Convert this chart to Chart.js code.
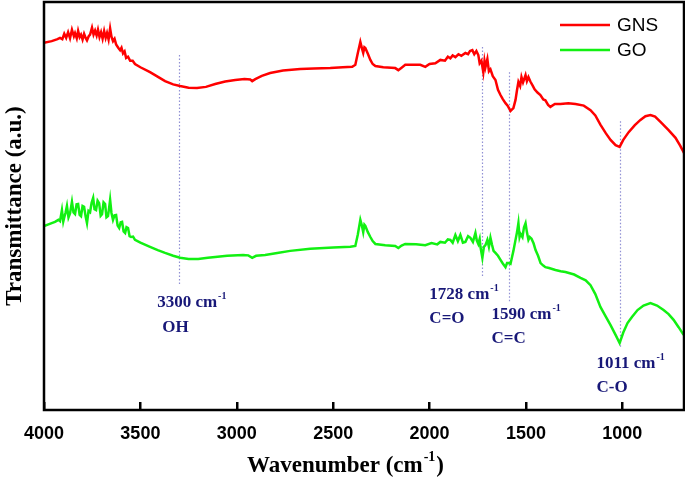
<!DOCTYPE html>
<html>
<head>
<meta charset="utf-8">
<script src="https://cdn.jsdelivr.net/npm/chart.js@4"></script>
<style>
  html, body { margin: 0; padding: 0; background: #fff; }
  #wrap { width: 685px; height: 478px; }
</style>
</head>
<body>
<div id="wrap"><canvas id="ftir"></canvas></div>
<script>
// espectro GNS (rojo)
const wnGNS = [4000,3960,3930,3917,3905,3895,3885,3875,3865,3855,3845,3839,3830,3823,3815,3808,3800,3792,3784,3777,3768,3761,3751,3743,3735,3727,3720,3712,3704,3696,3688,3680,3673,3665,3657,3650,3642,3634,3626,3615,3605,3598,3590,3582,3574,3564,3553,3540,3528,3500,3450,3400,3372,3330,3294,3250,3206,3160,3112,3060,3008,2960,2930,2920,2904,2870,2827,2760,2671,2600,2515,2450,2401,2385,2372,2359,2350,2344,2338,2333,2320,2307,2295,2281,2240,2178,2162,2145,2126,2080,2048,2022,2000,1970,1944,1920,1905,1892,1880,1866,1850,1835,1814,1800,1790,1778,1768,1757,1747,1740,1731,1721,1715,1710,1700,1692,1684,1672,1658,1645,1632,1620,1606,1595,1580,1565,1554,1546,1539,1530,1523,1515,1502,1495,1487,1477,1465,1455,1440,1425,1410,1399,1385,1373,1350,1321,1280,1243,1200,1165,1140,1113,1085,1061,1035,1014,995,967,935,906,880,854,830,802,760,724,700,680];
const tGNS = [90.0,90.4,90.9,91.2,90.9,92.2,91.2,92.6,91.1,93.2,91.6,92.4,91.1,92.9,91.4,92.0,90.8,92.2,91.2,90.6,91.6,92.0,93.7,92.0,93.0,91.8,93.2,91.4,92.6,91.0,92.9,91.2,92.4,90.8,93.5,91.5,90.4,91.0,89.6,88.8,88.2,88.8,87.4,87.9,86.3,86.6,85.6,85.6,84.8,84.0,82.8,81.4,80.6,79.8,79.4,79.0,78.9,79.2,79.9,80.5,80.9,81.1,81.0,80.6,81.1,81.9,82.6,83.2,83.6,83.7,83.8,84.0,84.1,84.6,87.5,90.2,88.5,87.5,88.9,88.7,87.3,85.8,84.8,84.3,84.0,83.8,83.3,83.9,84.6,84.6,84.6,84.1,84.8,85.0,85.8,85.6,86.6,86.2,86.9,86.5,87.2,86.8,87.5,87.2,88.0,88.2,87.2,88.0,87.0,85.0,85.6,82.8,85.5,84.0,86.0,83.0,83.5,81.8,80.9,78.5,77.2,76.2,75.2,74.6,73.3,74.0,76.0,78.5,80.4,79.4,81.6,80.3,82.1,80.6,81.6,80.5,79.5,78.6,77.8,77.2,76.1,75.9,74.8,74.3,75.0,75.0,75.2,75.0,74.6,73.5,72.2,69.9,67.8,66.2,64.9,64.5,66.2,68.1,69.8,71.1,72.0,72.3,71.9,70.6,68.6,66.7,64.8,63.0];

// espectro GO (verde)
const wnGO = [4000,3960,3943,3925,3917,3907,3900,3896,3888,3881,3873,3865,3855,3847,3839,3831,3823,3815,3808,3800,3792,3784,3777,3769,3761,3753,3745,3738,3730,3722,3714,3706,3699,3691,3683,3676,3668,3662,3657,3650,3642,3634,3626,3618,3610,3602,3595,3587,3579,3572,3564,3556,3548,3538,3528,3500,3450,3410,3372,3330,3294,3250,3200,3150,3112,3050,2967,2940,2920,2900,2853,2790,2723,2619,2500,2411,2385,2372,2359,2350,2344,2338,2333,2320,2307,2295,2281,2230,2178,2162,2145,2126,2070,2022,1990,1960,1944,1920,1905,1892,1880,1866,1853,1840,1827,1814,1800,1788,1775,1762,1755,1747,1740,1736,1726,1718,1710,1700,1692,1684,1676,1668,1658,1645,1632,1620,1606,1598,1591,1580,1572,1565,1554,1546,1539,1533,1528,1518,1510,1502,1495,1487,1480,1471,1460,1450,1437,1424,1410,1399,1380,1347,1320,1295,1250,1217,1190,1165,1140,1113,1085,1061,1035,1014,995,973,950,921,890,854,820,786,760,734,708,682];
const tGO = [45.1,45.8,46.1,46.6,46.3,49.0,46.2,47.0,48.4,50.0,47.2,48.2,51.0,48.4,48.0,50.4,50.5,47.8,47.5,50.0,49.8,47.4,45.8,48.8,48.5,50.8,52.0,49.2,49.0,51.3,50.7,47.6,48.0,50.9,50.5,47.2,47.5,49.6,51.5,48.3,46.6,47.7,47.8,45.2,44.6,46.0,46.1,43.8,43.4,44.8,44.6,42.6,42.4,42.5,41.7,41.0,40.0,39.2,38.5,37.8,37.3,37.0,37.0,37.3,37.5,37.8,38.0,37.9,37.3,37.8,38.0,38.5,39.0,39.5,39.8,40.0,40.2,43.0,46.6,45.0,43.6,45.4,45.1,43.6,42.4,41.4,40.7,40.4,40.2,39.7,40.3,40.7,40.6,40.4,40.9,40.6,41.2,41.0,41.8,41.7,41.0,42.9,41.4,42.9,41.0,41.2,42.6,42.2,41.2,43.4,41.6,40.7,41.9,40.0,37.3,40.0,40.4,41.7,40.0,42.2,40.5,39.0,38.5,37.8,36.8,35.9,35.0,36.0,36.0,35.8,37.5,39.0,41.7,43.6,45.8,42.4,43.2,42.4,44.8,45.8,43.6,41.7,42.4,42.0,40.8,39.2,37.8,36.0,35.4,35.0,34.8,34.3,34.0,33.8,33.2,32.4,31.8,30.6,28.4,25.2,22.8,20.8,18.4,16.4,19.0,21.3,22.8,24.5,25.6,26.2,25.6,24.5,23.5,22.1,20.3,18.4];

// bandas marcadas
const picos = [3300, 1728, 1590, 1011];
const picoArriba = [87.0, 89.0, 82.8, 70.8];
const picoAbajo = [30.6, 32.4, 26.2, 15.2];
const picoTexto = ['3300 cm', '1728 cm', '1590 cm', '1011 cm'];
const picoGrupo = ['OH', 'C=O', 'C=C', 'C-O'];
const textoX = [3413, 2001, 1679, 1134];
const grupoX = [3387, 2001, 1679, 1134];
const textoY = [26.2, 28.2, 23.3, 11.3];
const grupoY = [20.3, 22.3, 17.4, 5.6];

const xTicks = [4000, 3500, 3000, 2500, 2000, 1500, 1000];

function puntos(xs, ys) {
    return xs.map((x, i) => ({ x: x, y: ys[i] }));
}

function textoSup(ctx, base, sup, x, y, size) {
    ctx.font = 'bold ' + size + 'px "Liberation Serif", "Times New Roman", serif';
    ctx.textAlign = 'left';
    ctx.textBaseline = 'middle';
    ctx.fillText(base, x, y);
    const w = ctx.measureText(base).width;
    ctx.font = 'bold ' + Math.round(size * 0.6) + 'px "Liberation Serif", "Times New Roman", serif';
    ctx.fillText(sup, x + w + 1, y - size * 0.38);
    return w + ctx.measureText(sup).width + 1;
}

const extras = {
    id: 'extras',
    beforeDatasetsDraw(chart) {
        const ctx = chart.ctx, xs = chart.scales.x, ys = chart.scales.y;
        ctx.save();
        ctx.strokeStyle = '#9090d4';
        ctx.lineWidth = 1.2;
        ctx.setLineDash([1.5, 2]);
        picos.forEach((p, i) => {
            const px = Math.round(xs.getPixelForValue(p)) + 0.5;
            ctx.beginPath();
            ctx.moveTo(px, ys.getPixelForValue(picoArriba[i]));
            ctx.lineTo(px, ys.getPixelForValue(picoAbajo[i]));
            ctx.stroke();
        });
        ctx.restore();
    },
    afterDraw(chart) {
        const ctx = chart.ctx, xs = chart.scales.x, ys = chart.scales.y;
        const a = chart.chartArea;
        ctx.save();
        // etiquetas de bandas
        ctx.fillStyle = '#181878';
        picos.forEach((p, i) => {
            textoSup(ctx, picoTexto[i], '-1', xs.getPixelForValue(textoX[i]), ys.getPixelForValue(textoY[i]), 17);
            ctx.font = 'bold 17px "Liberation Serif", "Times New Roman", serif';
            ctx.fillText(picoGrupo[i], xs.getPixelForValue(grupoX[i]), ys.getPixelForValue(grupoY[i]));
        });
        // marco
        ctx.strokeStyle = '#000';
        ctx.lineWidth = 2.5;
        ctx.strokeRect(a.left, a.top, a.right - a.left, a.bottom - a.top);
        // leyenda
        chart.data.datasets.forEach((ds, i) => {
            const y = a.top + 23 + i * 25;
            ctx.strokeStyle = ds.borderColor;
            ctx.lineWidth = 2.5;
            ctx.beginPath();
            ctx.moveTo(a.right - 124, y);
            ctx.lineTo(a.right - 74, y);
            ctx.stroke();
            ctx.fillStyle = '#000';
            ctx.font = '19px "Liberation Sans", Arial, sans-serif';
            ctx.textAlign = 'left';
            ctx.textBaseline = 'middle';
            ctx.fillText(ds.label, a.right - 67, y + 1);
        });
        // titulo eje x
        ctx.fillStyle = '#000';
        ctx.font = 'bold 23px "Liberation Serif", "Times New Roman", serif';
        const base = 'Wavenumber (cm';
        const wBase = ctx.measureText(base).width;
        ctx.font = 'bold 14px "Liberation Serif", "Times New Roman", serif';
        const wSup = ctx.measureText('-1').width;
        ctx.font = 'bold 23px "Liberation Serif", "Times New Roman", serif';
        const wPar = ctx.measureText(')').width;
        let x0 = chart.width / 2 + 3 - (wBase + wSup + wPar + 2) / 2;
        const ty = 466;
        const w = textoSup(ctx, base, '-1', x0, ty, 23);
        ctx.font = 'bold 23px "Liberation Serif", "Times New Roman", serif';
        ctx.fillText(')', x0 + w + 1, ty);
        ctx.restore();
    }
};

new Chart(document.getElementById('ftir'), {
    type: 'line',
    data: {
        datasets: [
            { label: 'GNS', data: puntos(wnGNS, tGNS), borderColor: '#ff0000', borderWidth: 2.5, pointRadius: 0, tension: 0, fill: false },
            { label: 'GO', data: puntos(wnGO, tGO), borderColor: '#12f012', borderWidth: 2.5, pointRadius: 0, tension: 0, fill: false }
        ]
    },
    options: {
        responsive: true,
        maintainAspectRatio: false,
        animation: false,
        layout: { padding: { top: 2, right: 1, left: 0, bottom: 0 } },
        plugins: {
            legend: { display: false },
            tooltip: { enabled: false }
        },
        scales: {
            x: {
                type: 'linear',
                reverse: true,
                min: 680,
                max: 4000,
                afterBuildTicks: function(scale) {
                    scale.ticks = xTicks.map(v => ({ value: v }));
                },
                afterFit: function(scale) { scale.height = 68; },
                border: { display: false },
                grid: { drawOnChartArea: false, drawTicks: true, tickLength: -8, color: '#000', lineWidth: 2.5 },
                ticks: {
                    padding: 21,
                    color: '#000',
                    font: { family: '"Liberation Sans", Arial, sans-serif', size: 18, weight: 'bold' },
                    callback: v => String(v)
                }
            },
            y: {
                min: 0,
                max: 100,
                afterFit: function(scale) { scale.width = 44; },
                border: { display: false },
                grid: { display: false },
                ticks: { display: false },
                title: {
                    display: true,
                    text: 'Transmittance (a.u.)',
                    color: '#000',
                    padding: { top: 1, bottom: 0 },
                    font: { family: '"Liberation Serif", "Times New Roman", serif', size: 23, weight: 'bold' }
                }
            }
        }
    },
    plugins: [extras]
});
</script>
</body>
</html>
